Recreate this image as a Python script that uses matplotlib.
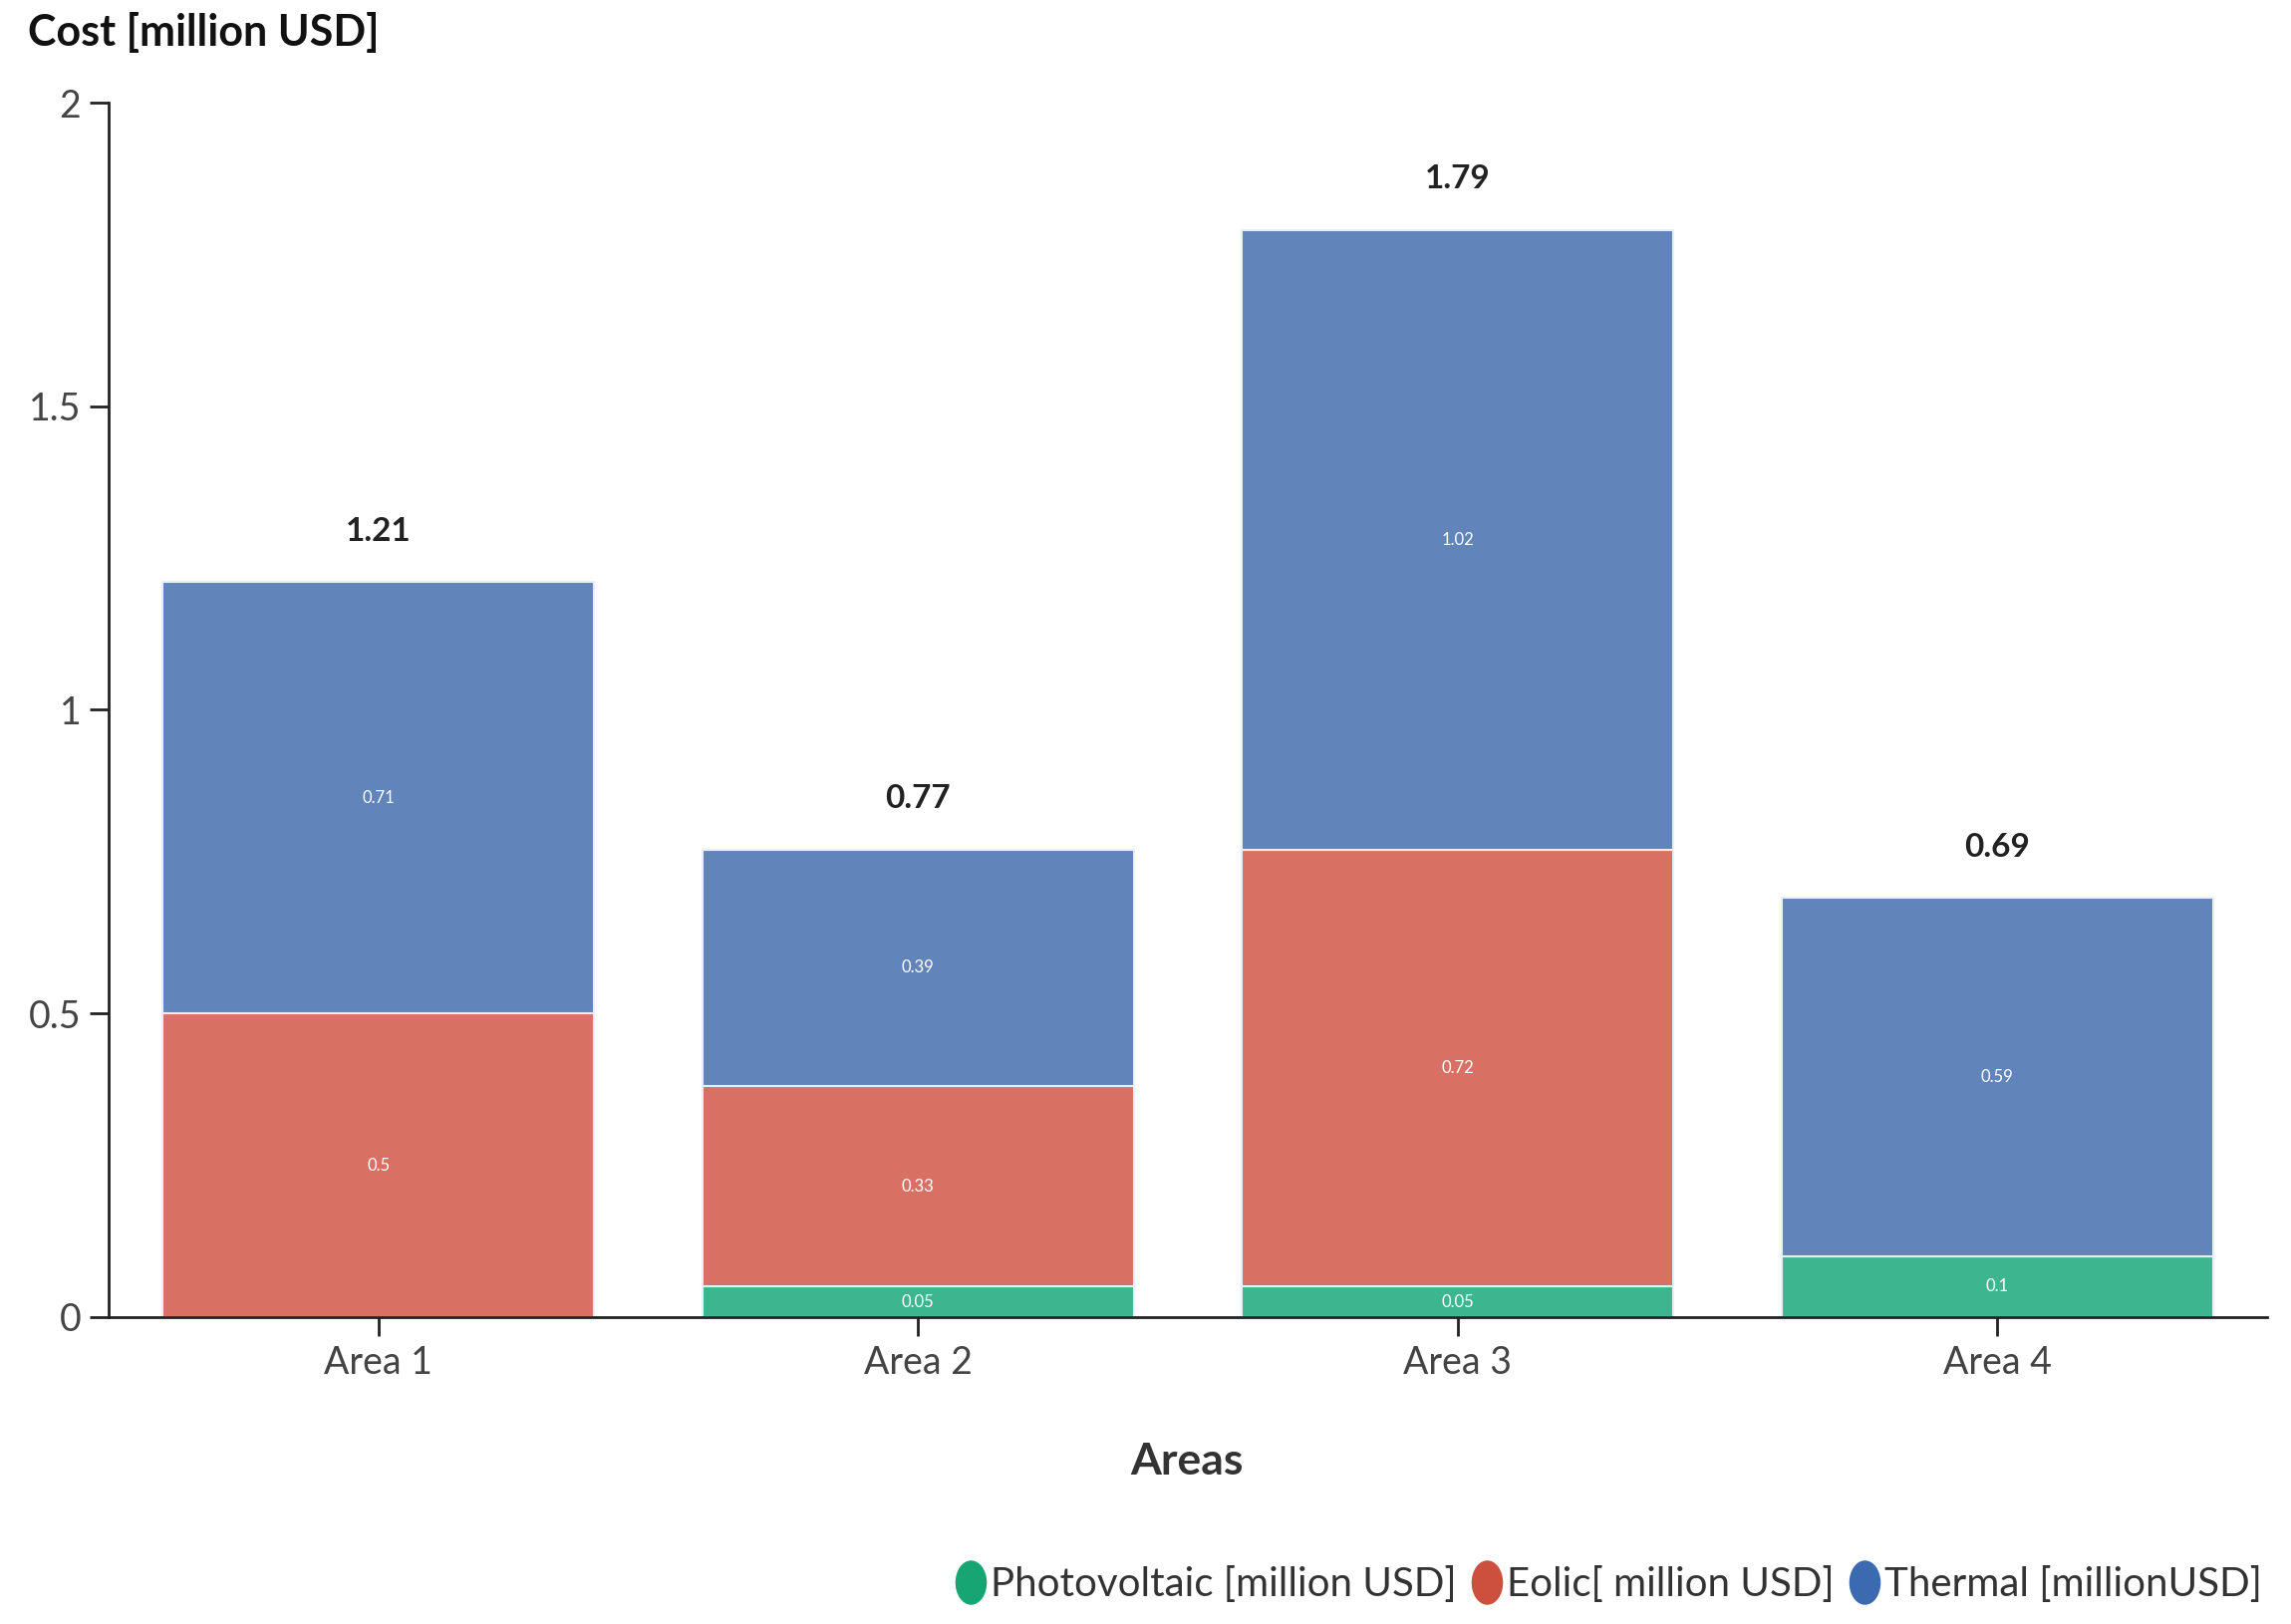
import numpy as np
import matplotlib
matplotlib.use("Agg")
import matplotlib.pyplot as plt
from matplotlib.path import Path
from matplotlib.lines import Line2D

plt.rcParams['font.family'] = ['Lato', 'DejaVu Sans']

# data
areas = ['Area 1', 'Area 2', 'Area 3', 'Area 4']
photovoltaic = [0.0, 0.05, 0.05, 0.1]
eolic = [0.5, 0.33, 0.72, 0.0]
thermal = [0.71, 0.39, 1.02, 0.59]
series_names = ['Photovoltaic [million USD]', 'Eolic[ million USD]', 'Thermal [millionUSD]']
bar_colors = ['#3db690', '#d87063', '#6184ba']
legend_colors = ['#17a673', '#cd4f3e', '#3b6ab0']

fig = plt.figure(figsize=(22.99, 16.30), dpi=100)
ax = fig.add_axes([0.0474, 0.189, 0.9422, 0.7478])

x = np.arange(len(areas))
bottom = np.zeros(len(areas))
for vals, col in zip([photovoltaic, eolic, thermal], bar_colors):
    vals = np.array(vals)
    ax.bar(x, vals, width=0.8, bottom=bottom, color=col,
           edgecolor='#e8eef6', linewidth=1.5, zorder=2)
    for xi, v, b in zip(x, vals, bottom):
        if v > 0:
            ax.text(xi, b + v / 2, '%g' % v, ha='center', va='center',
                    color='white', fontsize=12)
    bottom = bottom + vals

# totals above bars
for xi, tot in zip(x, bottom):
    ax.annotate('%.2f' % tot, (xi, tot), xytext=(0, 37), textcoords='offset points',
                ha='center', va='center', fontsize=24, fontweight='bold', color='#222222')

ax.set_xlim(-0.5, 3.5)
ax.set_ylim(0, 2)
ax.set_xticks(x)
ax.set_xticklabels(areas)
ax.set_yticks([0, 0.5, 1, 1.5, 2])
ax.set_yticklabels(['0', '0.5', '1', '1.5', '2'])
ax.tick_params(axis='both', labelsize=27, labelcolor='#444444', color='#222222',
               length=14, width=2, direction='out', pad=6)
for s in ['top', 'right']:
    ax.spines[s].set_visible(False)
for s in ['left', 'bottom']:
    ax.spines[s].set_color('#222222')
    ax.spines[s].set_linewidth(2)
    ax.spines[s].set_zorder(3)

fig.text(0.012, 0.98, 'Cost [million USD]', ha='left', va='center',
         fontsize=31, fontweight='bold', color='#111111')
fig.text(0.518, 0.1, 'Areas', ha='center', va='center',
         fontsize=32, fontweight='bold', color='#333333')

# legend with pill markers
circ = Path.unit_circle()
pill = Path(circ.vertices * np.array([0.7, 1.0]), circ.codes)
handles = [Line2D([], [], linestyle='none', marker=pill, markersize=31,
                  markerfacecolor=c, markeredgecolor=c) for c in legend_colors]
fig.legend(handles, series_names, loc='center right', bbox_to_anchor=(1.003, 0.024),
           ncol=3, frameon=False, fontsize=29, handletextpad=0.05,
           columnspacing=0.3, handlelength=0.9, labelcolor='#333333')

fig.savefig('out.png', dpi=100)
